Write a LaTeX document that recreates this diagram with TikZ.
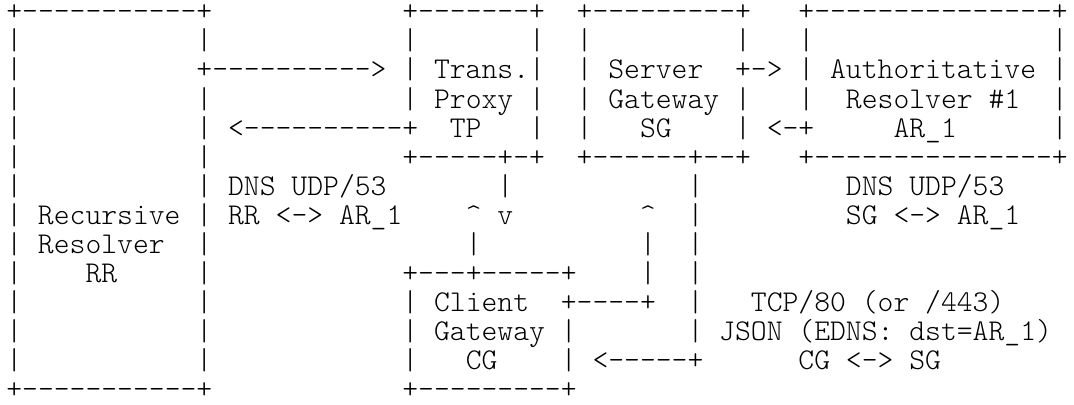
\documentclass[tikz,border=0pt]{standalone}
\usepackage{fontspec}
\newfontfamily\asciifont{lmmonolt10-regular.otf}[Ligatures=TeXOff]
\frenchspacing

\tikzset{asciirow/.style={anchor=base west, inner sep=0pt, outer sep=0pt,
  font=\asciifont\fontsize{11.43pt}{11pt}\selectfont}}

\begin{document}
\begin{tikzpicture}[x=6pt,y=-11pt]
\useasboundingbox (-0.9,-0.72) rectangle (66.9,13.22);

% one node per text row, col c centred at x=c
\node[asciirow] (row0)  at (-0.5,0)  {+-----------+~~~~~~~~~~~~+-------+~~+---------+~~~+---------------+};
\node[asciirow] (row1)  at (-0.5,1)  {|~~~~~~~~~~~|~~~~~~~~~~~~|~~~~~~~|~~|~~~~~~~~~|~~~|~~~~~~~~~~~~~~~|};
\node[asciirow] (row2)  at (-0.5,2)  {|~~~~~~~~~~~+---------->~|~Trans.|~~|~Server~~+->~|~Authoritative~|};
\node[asciirow] (row3)  at (-0.5,3)  {|~~~~~~~~~~~|~~~~~~~~~~~~|~Proxy~|~~|~Gateway~|~~~|~~Resolver~\#1~~|};
\node[asciirow] (row4)  at (-0.5,4)  {|~~~~~~~~~~~|~<----------+~~TP~~~|~~|~~~SG~~~~|~<-+~~~~~AR\_1~~~~~~|};
\node[asciirow] (row5)  at (-0.5,5)  {|~~~~~~~~~~~|~~~~~~~~~~~~+-----+-+~~+------+--+~~~+---------------+};
\node[asciirow] (row6)  at (-0.5,6)  {|~~~~~~~~~~~|~DNS~UDP/53~~~~~~~|~~~~~~~~~~~|~~~~~~~~~DNS~UDP/53};
\node[asciirow] (row7)  at (-0.5,7)  {|~Recursive~|~RR~<->~AR\_1~~~~\textasciicircum~v~~~~~~~~\textasciicircum~~|~~~~~~~~~SG~<->~AR\_1};
\node[asciirow] (row8)  at (-0.5,8)  {|~Resolver~~|~~~~~~~~~~~~~~~~|~~~~~~~~~~|~~|};
\node[asciirow] (row9)  at (-0.5,9)  {|~~~~RR~~~~~|~~~~~~~~~~~~+---+-----+~~~~|~~|};
\node[asciirow] (row10) at (-0.5,10) {|~~~~~~~~~~~|~~~~~~~~~~~~|~Client~~+----+~~|~~~TCP/80~(or~/443)};
\node[asciirow] (row11) at (-0.5,11) {|~~~~~~~~~~~|~~~~~~~~~~~~|~Gateway~|~~~~~~~|~JSON~(EDNS:~dst=AR\_1)};
\node[asciirow] (row12) at (-0.5,12) {|~~~~~~~~~~~|~~~~~~~~~~~~|~~~CG~~~~|~<-----+~~~~~~CG~<->~SG};
\node[asciirow] (row13) at (-0.5,13) {+-----------+~~~~~~~~~~~~+---------+};
\end{tikzpicture}
\end{document}
